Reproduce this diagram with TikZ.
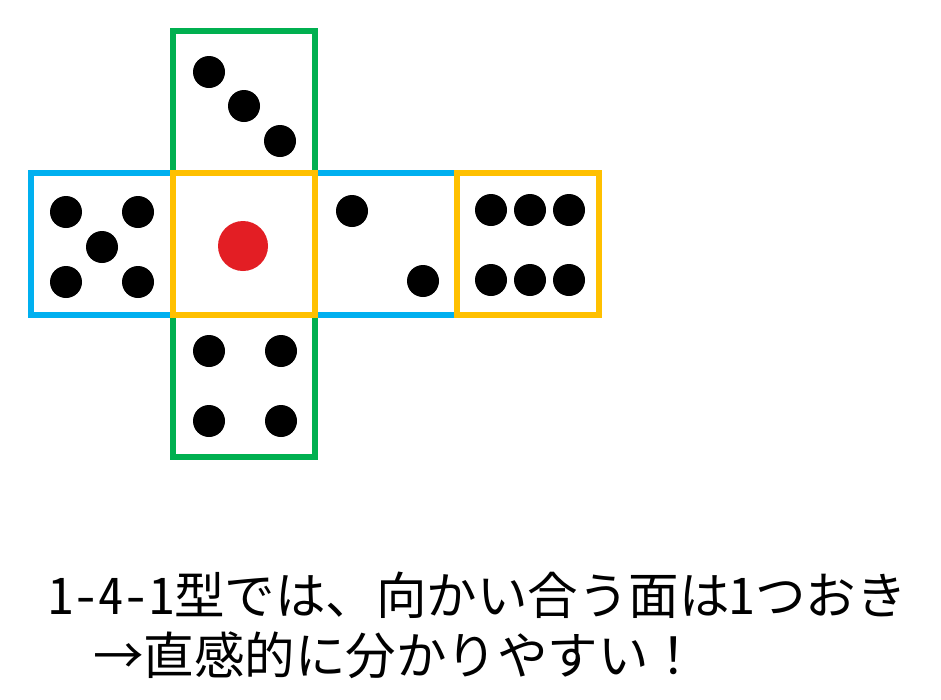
\documentclass[tikz,border=0pt]{standalone}
\usepackage{fontspec}
\newfontfamily\jpfont{Noto Sans CJK JP}
\newcommand{\halfw}[1]{{\addfontfeature{RawFeature=+hwid}#1}}
\definecolor{netBlue}{HTML}{00B0F0}
\definecolor{netGreen}{HTML}{00B050}
\definecolor{netYellow}{HTML}{FFC000}
\definecolor{pipRed}{HTML}{E31E24}
\begin{document}
\begin{tikzpicture}[x=1pt, y=-1pt, faceStyle/.style={rectangle, draw, line width=5.5pt, minimum size=142pt, inner sep=0pt}, pipStyle/.style={circle, fill=black, minimum size=32pt, inner sep=0pt}, onePipStyle/.style={circle, fill=pipRed, minimum size=50pt, inner sep=0pt}, textStyle/.style={anchor=base west, inner sep=0pt, font=\jpfont\fontsize{50.5pt}{60pt}\selectfont}]
                    \useasboundingbox[fill=white] (0,0) rectangle (941,699);
                    % faces of the net
                    \node[faceStyle, draw=netBlue]   (face_left)   at (102, 244) {};
                    \node[faceStyle, draw=netBlue]   (face_right)  at (386, 244) {};
                    \node[faceStyle, draw=netGreen]  (face_top)    at (244, 102) {};
                    \node[faceStyle, draw=netGreen]  (face_bottom) at (244, 386) {};
                    \node[faceStyle, draw=netYellow] (face_front)  at (244, 244) {};
                    \node[faceStyle, draw=netYellow] (face_back)   at (528, 244) {};
                    % pips
                    \node[pipStyle] (top_0) at (209, 72) {};
                    \node[pipStyle] (top_1) at (244, 106) {};
                    \node[pipStyle] (top_2) at (280, 141) {};
                    \node[pipStyle] (left_0) at ( 66, 212) {};
                    \node[pipStyle] (left_1) at (138, 212) {};
                    \node[pipStyle] (left_2) at (102, 247) {};
                    \node[pipStyle] (left_3) at ( 66, 282) {};
                    \node[pipStyle] (left_4) at (138, 282) {};
                    \node[onePipStyle] (front_0) at (243, 246) {};
                    \node[pipStyle] (right_0) at (352, 211) {};
                    \node[pipStyle] (right_1) at (423, 281) {};
                    \node[pipStyle] (back_0) at (491, 210) {};
                    \node[pipStyle] (back_1) at (530, 210) {};
                    \node[pipStyle] (back_2) at (569, 210) {};
                    \node[pipStyle] (back_3) at (491, 280) {};
                    \node[pipStyle] (back_4) at (530, 280) {};
                    \node[pipStyle] (back_5) at (569, 280) {};
                    \node[pipStyle] (bottom_0) at (209, 351) {};
                    \node[pipStyle] (bottom_1) at (281, 351) {};
                    \node[pipStyle] (bottom_2) at (209, 421) {};
                    \node[pipStyle] (bottom_3) at (281, 421) {};
                    % caption
                    \node[textStyle] (caption_0) at (48, 614) {\halfw{1-4-1}型では、向かい合う面は\halfw{1}つおき};
                    \node[textStyle] (caption_1) at (93, 674) {→直感的に分かりやすい！};
                \end{tikzpicture}
\end{document}
